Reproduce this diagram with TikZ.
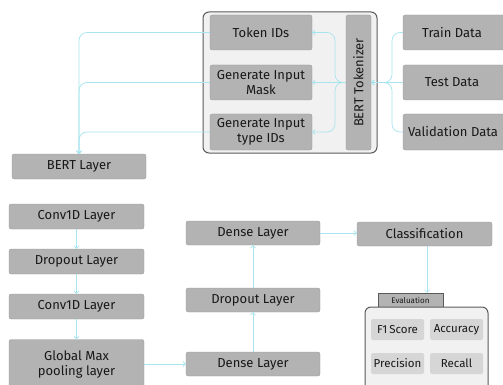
\documentclass[tikz,border=0pt]{standalone}
\usepackage{fontspec}
\setmainfont{Fira Sans}
\usetikzlibrary{arrows.meta}
\definecolor{boxgray}{HTML}{B3B3B3}
\definecolor{lightgray}{HTML}{D6D6D6}
\definecolor{panel}{HTML}{F1F1F1}
\definecolor{edgegray}{HTML}{5A5A5A}
\definecolor{flow}{HTML}{A6E4EE}
\definecolor{txt}{HTML}{181818}
\begin{document}
\begin{tikzpicture}[x=1pt,y=-1pt,
  gbox/.style={draw=boxgray!85!black, line width=0.3pt, fill=boxgray, rounded corners=2pt, inner sep=1pt, align=center, text=txt, font=\fontsize{13}{15}\selectfont},
  lbox/.style={fill=lightgray, rounded corners=1.5pt, inner sep=0pt, align=center, text=txt, font=\fontsize{11.5}{13}\selectfont},
  flowline/.style={draw=flow, line width=0.7pt, rounded corners=8pt, -{Straight Barb[length=2.5pt,width=5pt]}}
]
\useasboundingbox (0,0) rectangle (503,385);
% tokenizer panel
\node[draw=edgegray, line width=1pt, fill=panel, rounded corners=6pt, minimum width=174pt, minimum height=141pt, inner sep=0pt] (panel) at (290,82.5) {};
\node[gbox, minimum width=102pt, minimum height=35pt] (tokid) at (261,32.5) {Token IDs};
\node[gbox, minimum width=102pt, minimum height=35pt] (mask) at (261,82.5) {Generate Input\\Mask};
\node[gbox, minimum width=102pt, minimum height=36pt] (typeid) at (261,132) {Generate Input\\type IDs};
\node[gbox, minimum width=25pt, minimum height=135pt] (berttok) at (358.5,82.5) {};
\node[rotate=90, text=txt, font=\fontsize{13}{15}\selectfont] (berttoklabel) at (berttok.center) {BERT Tokenizer};
% data
\node[gbox, minimum width=104pt, minimum height=35pt] (train) at (455,32.5) {\hspace*{-6pt}Train Data};
\node[gbox, minimum width=104pt, minimum height=35pt] (test) at (455,82.5) {\hspace*{-6pt}Test Data};
\node[gbox, minimum width=104pt, minimum height=36pt] (valid) at (455,132) {Validation Data\hspace*{4pt}};
% left column
\node[gbox, minimum width=134pt, minimum height=25pt] (bertlayer) at (79,166.5) {BERT Layer};
\node[gbox, minimum width=135pt, minimum height=25pt] (conv1) at (76.5,216.5) {Conv1D Layer};
\node[gbox, minimum width=135pt, minimum height=25pt] (drop1) at (76.5,261.5) {Dropout Layer};
\node[gbox, minimum width=135pt, minimum height=25pt] (conv2) at (76.5,306.5) {Conv1D Layer};
\node[gbox, minimum width=135pt, minimum height=50pt] (gmp) at (76.5,364.5) {Global Max\\pooling layer};
% middle column
\node[gbox, minimum width=134pt, minimum height=24pt] (dense1) at (253,233) {Dense Layer};
\node[gbox, minimum width=134pt, minimum height=24pt] (drop2) at (253,300) {Dropout Layer};
\node[gbox, minimum width=134pt, minimum height=24pt] (dense2) at (253,364) {Dense Layer};
% right
\node[gbox, minimum width=135pt, minimum height=24pt] (class) at (424.5,234) {Classification};
\node[gbox, draw=edgegray, line width=0.5pt, rounded corners=0pt, minimum width=65pt, minimum height=14pt, inner sep=0pt, font=\fontsize{8}{9}\selectfont] (evaltab) at (410.5,300) {Evaluation};
\node[draw=edgegray, line width=1pt, fill=panel, rounded corners=6pt, minimum width=123pt, minimum height=85pt, inner sep=0pt] (evalbox) at (426.5,349.5) {};
\node[lbox, minimum width=53pt, minimum height=21pt] (f1) at (397.5,329.5) {F1\,Score};
\node[lbox, minimum width=53pt, minimum height=21pt] (acc) at (456.5,329.5) {Accuracy};
\node[lbox, minimum width=53pt, minimum height=21pt] (prec) at (397.5,363.5) {Precision};
\node[lbox, minimum width=53pt, minimum height=21pt] (rec) at (456.5,363.5) {Recall};
% connectors
\coordinate (jr) at (392,82.5);
\coordinate (jl) at (335,82.5);
\draw[flowline] (train.west) -| (jr) -- (berttok.east);
\draw[flowline] (valid.west) -| (jr) -- (berttok.east);
\draw[flowline] (test.west) -- (berttok.east);
\draw[flowline] (berttok.west) -- (jl) |- (tokid.east);
\draw[flowline] (berttok.west) -- (jl) |- (typeid.east);
\draw[flowline] (berttok.west) -- (mask.east);
\draw[flowline] (tokid.west) -| (bertlayer.north);
\draw[flowline] (mask.west) -| (bertlayer.north);
\draw[flowline] (typeid.west) -| (bertlayer.north);
\draw[flowline] (conv1) -- (drop1);
\draw[flowline] (drop1) -- (conv2);
\draw[flowline] (conv2) -- (gmp);
\draw[flowline] (gmp.east |- dense2.west) -- (dense2.west);
\draw[flowline] (dense2) -- (drop2);
\draw[flowline] (drop2) -- (dense1);
\draw[flowline] (dense1.east) -- (dense1.east -| class.west);
\coordinate (cs) at (427,246);
\draw[flowline] (cs) -- (cs |- evaltab.north);
\end{tikzpicture}
\end{document}
